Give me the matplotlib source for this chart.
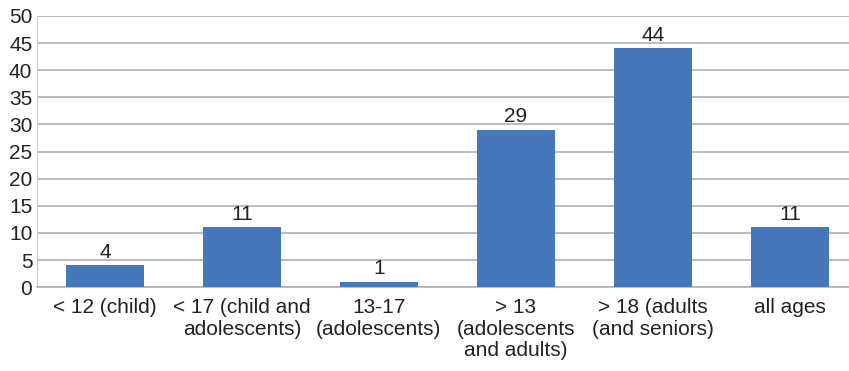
import matplotlib.pyplot as plt

plt.rcParams['font.family'] = ['Liberation Sans', 'DejaVu Sans']

categories = ['< 12 (child)', '< 17 (child and\nadolescents)', '13-17\n(adolescents)',
              '> 13\n(adolescents\nand adults)', '> 18 (adults\n(and seniors)', 'all ages']
counts = [4, 11, 1, 29, 44, 11]
yticks = list(range(0, 51, 5))

fig = plt.figure(figsize=(8.49, 3.71), dpi=100)
ax = fig.add_axes([0.043, 0.226, 0.968, 0.731])

x = list(range(len(categories)))
bars = ax.bar(x, counts, width=0.57, color='#4677ba', zorder=3)

for xi, v in zip(x, counts):
    ax.text(xi, v + 0.7, str(v), ha='center', va='bottom', fontsize=15, color='#222222')

ax.set_xlim(-0.5, len(categories) - 0.5)
ax.set_ylim(0, 50)
ax.set_yticks(yticks)
ax.yaxis.grid(True, color='#b0b0b0', linewidth=1.2, zorder=0)
ax.set_xticks(x)
ax.set_xticklabels(categories, fontsize=15, color='#222222', linespacing=1.17)
ax.tick_params(axis='y', labelsize=15, labelcolor='#222222', length=0, pad=3)
ax.tick_params(axis='x', length=0, pad=8)

for side in ['top', 'right']:
    ax.spines[side].set_visible(False)
ax.spines['left'].set_color('#cccccc')
ax.spines['bottom'].set_color('#b0b0b0')
ax.spines['bottom'].set_linewidth(1.2)

fig.savefig('out.png', dpi=100)
